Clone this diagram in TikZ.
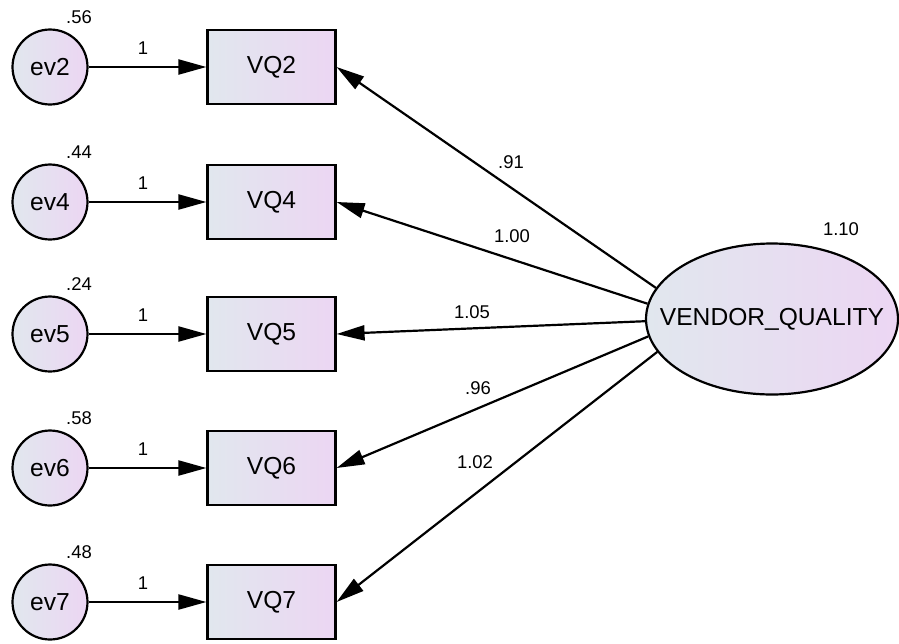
\documentclass[tikz,border=0pt]{standalone}
\usepackage{fontspec}
\setmainfont{Liberation Sans}
\usetikzlibrary{arrows.meta,shapes.geometric}
\definecolor{amosblue}{RGB}{225,231,238}
\definecolor{amospink}{RGB}{236,214,243}
\begin{document}
\begin{tikzpicture}[x=0.02cm, y=-0.02cm,
  err/.style={draw, circle, line width=1.25pt, minimum size=1.5cm, inner sep=0pt,
    left color=amosblue, right color=amospink, font=\fontsize{14}{16}\selectfont},
  obs/.style={draw, rectangle, line width=1.25pt, minimum width=2.56cm, minimum height=1.48cm,
    inner sep=0pt, left color=amosblue, right color=amospink, font=\fontsize{14}{16}\selectfont},
  lat/.style={draw, ellipse, line width=1.25pt, minimum width=5.04cm, minimum height=3.02cm,
    inner sep=0pt, left color=amosblue, right color=amospink, font=\fontsize{14}{16}\selectfont},
  est/.style={inner sep=0pt, font=\fontsize{10.5}{12}\selectfont},
  path/.style={line width=1.25pt, -{Triangle[length=0.56cm,width=0.3cm]}}]
  \useasboundingbox (0,0) rectangle (899,643);

  % error terms
  \node[err] (ev2) at (50,67) {ev2};
  \node[err] (ev4) at (50,202) {ev4};
  \node[err] (ev5) at (50,334) {ev5};
  \node[err] (ev6) at (50,468) {ev6};
  \node[err] (ev7) at (50,602) {ev7};
  \node[est] (var2) at (79,17) {.56};
  \node[est] (var4) at (79,152) {.44};
  \node[est] (var5) at (79,284) {.24};
  \node[est] (var6) at (79,418) {.58};
  \node[est] (var7) at (79,552) {.48};

  % observed items
  \node[obs] (VQ2) at (271.5,67) {VQ2};
  \node[obs] (VQ4) at (271.5,202) {VQ4};
  \node[obs] (VQ5) at (271.5,334) {VQ5};
  \node[obs] (VQ6) at (271.5,468) {VQ6};
  \node[obs] (VQ7) at (271.5,602) {VQ7};
  \node[est] (one2) at (143,48) {1};
  \node[est] (one4) at (143,183) {1};
  \node[est] (one5) at (143,315) {1};
  \node[est] (one6) at (143,449) {1};
  \node[est] (one7) at (143,583) {1};

  % latent factor
  \node[lat] (VQ) at (772,319) {\makebox[0pt]{VENDOR\_QUALITY}};
  \node[est] (varVQ) at (841,229) {1.10};
  \node[est] (w2) at (511,162) {.91};
  \node[est] (w4) at (512,236) {1.00};
  \node[est] (w5) at (472,312) {1.05};
  \node[est] (w6) at (478,388) {.96};
  \node[est] (w7) at (475,462) {1.02};

  \draw[path] (ev2) -- (VQ2);
  \draw[path] (ev4) -- (VQ4);
  \draw[path] (ev5) -- (VQ5);
  \draw[path] (ev6) -- (VQ6);
  \draw[path] (ev7) -- (VQ7);
  \draw[path] (VQ.165) -- (VQ2.east);
  \draw[path] (VQ.173) -- (VQ4.east);
  \draw[path] (VQ.181) -- (VQ5.east);
  \draw[path] (VQ.188) -- (VQ6.east);
  \draw[path] (VQ.196) -- (VQ7.east);
\end{tikzpicture}
\end{document}
